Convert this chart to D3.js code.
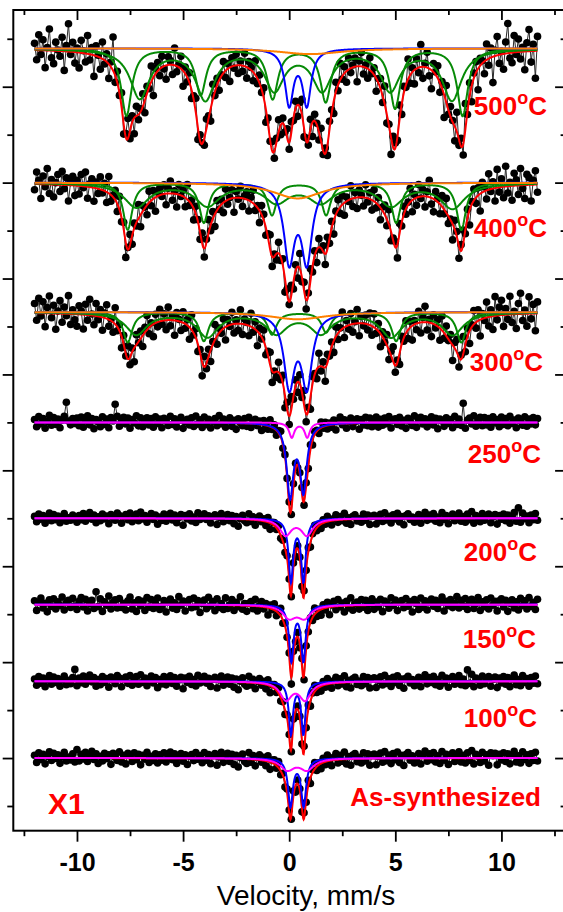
<!DOCTYPE html>
<html>
<head>
<meta charset="utf-8">
<script src="https://cdn.jsdelivr.net/npm/d3@7"></script>
<style>
  body { margin: 0; background: #fff; }
  svg { display: block; font-family: "Liberation Sans", Arial, sans-serif; }
</style>
</head>
<body>
<svg id="chart" width="563" height="912"></svg>
<script>
// spectra, top to bottom
const labels = ['500', '400', '300', '250', '200', '150', '100', 'As-synthesized'];
const baselines = [158, 130, 103, 80, 60, 42, 26, 10];

// velocity channels, mm/s (-12.0 .. 11.7)
const velocity = d3.range(-120, 118).map(d => d / 10);

// magnetic sextets (green), only for 500, 400, 300 C
const sextetAPos = [
  [-7.67, -4.17, -0.78, 1.72, 4.99, 8.17],
  [-7.61, -4.02, -0.81, 1.74, 5.04, 8.11],
  [-7.61, -4.02, -0.81, 1.74, 5.04, 8.11]
];
const sextetADepth = [
  [14.0, 9.6, 10.4, 11.0, 12.4, 14.0],
  [9.8, 8.3, 6.7, 6.7, 8.3, 9.8],
  [6.3, 6.0, 4.6, 4.2, 6.0, 6.3]
];
const sextetAWidth = [0.3, 0.26, 0.26];
const sextetBPos = [
  [-7.04, -3.95, -0.7, 1.55, 4.76, 7.67],
  [-7.2, -3.85, -0.6, 1.5, 4.8, 7.7],
  [-7.2, -3.85, -0.6, 1.5, 4.8, 7.7]
];
const sextetBDepth = [
  [10.2, 10.4, 8.3, 8.3, 8.5, 10.6],
  [5.0, 4.6, 3.8, 3.8, 4.6, 5.2],
  [4.6, 5.0, 4.2, 4.2, 5.0, 4.6]
];
const sextetBWidth = [0.55, 0.7, 0.6];

// paramagnetic doublet (blue)
const doubletPos = [[0.0, 0.83], [0.0, 0.83], [0.0, 0.83], [0.04, 0.67], [0.08, 0.67], [0.1, 0.67], [0.08, 0.67], [0.06, 0.68]];
const doubletDepth = [[11.5, 11.5], [15.9, 15.9], [15.0, 15.0], [15.0, 13.9], [12.9, 12.9], [11.5, 11.5], [10.8, 10.8], [9.8, 9.8]];
const doubletWidth = [0.24, 0.3, 0.3, 0.19, 0.13, 0.13, 0.12, 0.14];

// broad component (orange for 500-300 C, magenta below)
const broadPos = [[1.0], [0.4], [0.4], [0.12, 0.85], [-0.17, 0.84], [0.0, 0.72], [-0.15, 0.75], [-0.09, 0.84]];
const broadDepth = [[1.2], [3.3], [1.5], [3.1, 3.1], [3.4, 3.4], [2.57, 2.57], [3.7, 3.7], [2.35, 2.35]];
const broadWidth = [1.8, 1.4, 1.6, 0.15, 0.33, 0.38, 0.33, 0.4];

// measured points: residuals from the fit, in tenths of a y unit
const noise500 = [
  14,-20,32,-9,22,-36,6,45,-15,-27,18,2,-11,29,-40,12,58,-6,20,-23,
  9,-32,26,5,-18,38,-12,15,-44,21,3,-24,35,-8,17,-30,10,70,-14,24,
  -5,30,-21,8,42,-17,14,-33,20,-11,6,27,-26,15,-3,33,-38,11,18,-14,
  23,-6,-29,17,9,-20,36,-12,5,26,-32,14,-9,21,-18,8,30,-24,12,2,
  -15,20,6,-26,32,-8,15,-21,3,24,-14,11,-29,18,-5,23,-17,9,-12,27,
  -23,14,5,-18,29,-11,17,-6,21,-27,12,-3,20,-15,8,26,-20,11,-9,18,
  -14,23,-5,15,-24,9,32,-18,6,-11,21,-30,14,3,-17,27,-8,12,-21,17,
  8,-26,20,-12,35,-6,14,-23,24,-9,5,18,-32,11,29,-15,6,-20,26,-3,
  15,-27,9,21,-14,38,-18,3,-35,23,11,-8,30,-21,14,-5,42,-17,9,-29,
  20,-11,47,-24,8,32,-15,-39,18,6,26,-20,14,-47,35,-9,21,3,-30,41,
  -12,17,-23,54,-6,29,-33,11,23,-44,15,5,-26,33,-14,20,-54,12,39,-18,
  6,-32,24,62,-11,-21,35,-5,27,-15,9,-38,18,45,-23,14,-57,30
];
const noise400 = [
  -12,25,8,-30,17,-5,33,-19,10,-26,4,21,-14,28,-8,15,-33,6,19,-21,
  11,-17,24,-3,30,-24,7,18,-28,13,-10,26,-6,16,-22,35,-13,3,20,-16,
  27,-9,14,-31,5,22,-18,10,-7,29,-25,12,2,-20,24,-11,17,-29,8,15,
  -4,19,-23,11,26,-14,6,-27,21,-2,13,-19,31,-8,9,-24,16,4,-15,22,
  -18,7,28,-12,15,-26,20,-5,11,-21,25,-9,3,18,-30,13,-3,24,-17,6,
  16,-22,9,27,-11,4,-25,19,12,-16,8,30,-20,5,-13,23,-7,14,-28,10,
  -6,21,-15,13,-24,32,-9,17,-19,6,26,-12,10,-27,18,-4,12,-22,25,-10,
  14,-29,7,22,-13,19,-26,9,-3,28,-17,11,-23,15,4,-18,27,-8,13,-21,
  24,-10,16,-25,8,20,-14,31,-19,5,12,-28,21,-7,17,-11,6,29,-24,9,
  -16,26,-4,14,-22,10,35,-13,-27,18,7,-20,23,-9,30,-15,2,-33,19,11,
  -25,13,28,-8,19,-31,6,24,-12,16,-36,21,9,-18,33,-5,14,-27,38,-10,
  17,-23,42,-14,8,-30,26,12,-19,35,-7,-28,22,15,-34,9,29,-16
];
const noise300 = [
  20,-15,31,-6,24,-28,12,36,-9,17,-33,5,27,-18,14,-4,38,-22,9,-12,
  -25,18,7,-30,22,-11,33,3,-19,26,-7,15,-27,10,29,-14,4,-21,34,-8,
  13,-24,19,-5,28,-16,8,-29,21,-2,16,-23,11,30,-13,6,-26,18,-10,25,
  -7,14,-20,27,-12,9,-31,17,4,-18,23,-9,12,-25,31,-4,19,-15,7,-28,
  22,-11,15,-24,6,32,-17,10,-6,20,-27,13,-3,25,-19,8,-14,29,-22,11,
  5,-21,28,-9,16,-30,12,-4,24,-15,9,26,-23,3,-12,21,-8,17,-26,14,
  -18,27,-6,13,-22,19,-11,30,-16,7,-25,15,2,-20,28,-10,11,-29,18,-3,
  10,-24,20,-13,6,35,-21,12,-8,23,-17,4,29,-26,14,-5,18,-12,25,-19,
  28,-9,16,-27,11,-3,22,-20,9,31,-14,5,-23,17,-7,26,-18,13,-30,8,
  -13,24,-22,10,33,-16,7,-28,19,-6,14,-25,30,-11,21,-3,16,-32,12,27,
  -20,9,36,-15,18,-26,5,29,-12,23,-34,11,-5,32,-19,14,-28,40,-9,17,
  31,-24,13,-10,38,-17,6,-30,22,43,-14,8,-26,35,-11,19,-36,24
];
const noise250 = [
  6,-9,12,-3,8,-12,2,15,-6,10,-4,7,-11,5,13,42,3,-5,8,-2,
  9,-7,11,-10,4,14,-5,8,-13,6,1,-9,12,-4,7,-11,10,3,38,13,
  -8,5,11,-3,9,-12,6,-1,14,-7,10,-9,4,10,-5,8,-10,12,-2,7,
  -11,9,3,-6,13,-4,8,-9,5,11,-12,2,7,-5,10,-8,14,-3,6,-10,
  12,-4,7,-11,3,9,-6,15,-2,8,-9,4,11,-7,6,-13,9,1,-5,10,
  -6,13,-8,4,10,-3,7,-12,9,2,-7,14,-4,8,-10,5,12,-9,3,-1,
  8,-10,5,11,-6,3,13,-8,7,-4,10,-11,6,2,-9,12,-3,8,-7,4,
  -5,9,-12,6,14,-2,8,-10,4,11,-7,3,9,-13,7,-4,12,-6,10,-8,
  3,12,-9,7,-5,10,-2,13,-11,6,8,-4,11,-7,5,-12,9,2,-6,14,
  -10,6,11,-3,8,-9,4,12,-5,9,-13,7,3,-8,10,-2,6,-11,13,-4,
  7,-6,40,-12,5,9,-3,14,-8,4,11,-7,10,-5,8,-10,12,-1,6,-9,
  11,-4,8,-7,13,-2,5,-11,9,3,-6,12,-8,7,-3,10,-5,8
];
const noise200 = [
  4,-7,9,-2,6,-10,3,11,-5,8,-3,5,-9,2,10,-6,1,-4,7,-1,
  -8,6,-3,10,-6,4,12,-2,7,-9,3,-5,9,-1,5,-11,8,2,-4,11,
  6,-10,4,8,-3,11,-7,2,9,-5,13,-1,6,-8,4,10,-2,7,-12,3,
  -4,9,-6,5,11,-3,7,-9,2,8,-14,6,-1,10,-5,3,-8,12,-2,5,
  10,-2,6,-9,4,8,-12,3,11,-6,2,9,-4,7,-10,5,-15,1,8,-3,
  -7,12,-4,6,-11,3,9,-2,5,-8,10,-13,4,7,-3,11,-6,2,-9,6,
  3,-5,8,-12,6,1,-7,10,-3,9,-10,4,12,-6,2,-9,7,-4,11,-1,
  -9,4,11,-5,7,-2,13,-8,3,-11,6,9,-4,1,-7,10,-3,8,-12,5,
  7,-11,2,9,-6,12,-3,5,-9,8,-1,11,-7,4,-13,6,10,-2,3,-8,
  -3,8,-10,5,13,-4,7,-1,10,-6,3,-9,12,-2,6,-11,4,9,-5,2,
  11,-6,4,-8,9,-3,14,-10,6,2,-7,10,-4,5,9,-9,3,8,-12,6,
  -2,9,-5,7,-10,4,12,-6,22,-8,11,-1,5,-9,7,-3,10,-4
];
const noise150 = [
  8,-12,5,14,-7,3,-15,10,-4,12,-9,6,-2,16,-11,4,9,-6,13,-3,
  -10,7,15,-5,11,-13,2,9,-8,27,-4,12,-14,6,-1,18,-9,5,10,-7,
  13,-6,3,-11,8,16,-9,4,-14,10,-2,7,-12,15,-5,11,-8,2,14,-10,
  -3,9,-15,6,12,-7,4,-10,17,-1,8,-13,5,11,-6,14,-4,9,-16,3,
  10,-8,16,-2,7,-12,13,-5,3,-9,15,-7,1,12,-11,6,-3,18,-8,4,
  -12,5,9,-6,14,-10,2,11,-4,8,-15,7,-1,13,-9,4,16,-7,6,-2,
  7,-14,12,-3,9,-8,15,-11,5,-1,10,-6,13,-9,3,-12,8,-4,11,-16,
  4,11,-7,14,-2,6,-13,9,-5,16,-10,3,7,-8,12,-4,10,-11,2,13,
  -9,6,-4,12,-14,8,3,-7,15,-1,10,-12,5,9,-6,13,-3,7,-15,11,
  2,-10,14,-5,8,-11,6,12,-3,9,-8,4,16,-13,7,-2,11,-6,3,17,
  -7,9,-3,13,-10,5,11,-8,2,15,-12,6,-4,10,-9,14,-1,7,-13,8,
  12,-5,9,-14,3,10,-7,6,-11,13,-2,8,-9,15,-4,5,-10,11
];
const noise100 = [
  5,-8,10,-4,7,-11,3,12,-6,9,-2,6,-10,4,11,-7,2,-5,8,25,
  -9,7,-3,11,-6,5,13,-1,8,-10,4,-7,10,-2,6,-12,9,3,-5,12,
  7,-11,5,9,-4,12,-8,3,10,-6,14,-2,7,-9,5,11,-3,8,-13,4,
  -5,10,-7,6,12,-4,8,-10,3,9,-15,7,-2,11,-6,4,-9,13,-3,6,
  11,-3,7,-10,5,9,-13,4,12,-7,3,10,-5,8,-11,6,-16,2,9,-4,
  -8,13,-5,7,-12,4,10,-3,6,-9,11,-14,5,8,-4,12,-7,3,-10,7,
  4,-6,9,-13,7,2,-8,11,-4,10,-11,5,13,-7,3,-10,8,-5,12,-2,
  -10,5,12,-6,8,-3,14,-9,4,-12,7,10,-5,2,-8,11,-4,9,-13,6,
  8,-12,3,10,-7,13,-4,6,-10,9,-2,12,-8,5,-14,7,11,-3,4,-9,
  -4,9,-11,6,14,-5,8,-2,11,-7,4,-10,13,-3,7,-12,5,10,-6,3,
  12,-7,5,-9,24,-4,15,-11,7,3,-8,11,-5,6,10,-10,4,9,-13,7,
  -3,10,-6,8,-11,5,13,-7,4,-9,12,-2,6,-10,8,-4,11,-5
];
const noiseAs = [
  6,-9,11,-3,8,-12,4,13,-5,10,-1,7,-11,3,12,-6,2,-4,9,-8,
  18,-6,8,-2,12,-7,6,14,-3,9,-11,4,-6,10,-1,7,-13,10,2,-5,
  13,-8,6,-12,10,5,-7,11,-3,8,-14,6,-2,12,-9,4,-5,9,-10,7,
  -4,11,-8,5,13,-3,9,-11,2,10,-6,7,-13,4,8,-5,12,-2,6,-9,
  12,-4,8,-11,6,10,-14,3,13,-8,5,11,-6,9,-12,7,-17,3,10,-5,
  -9,14,-6,8,-13,5,11,-4,7,-10,12,-15,6,9,-5,13,-8,4,-11,8,
  5,-7,10,-14,8,3,-9,12,-5,11,-12,6,14,-8,4,-11,9,-6,13,-3,
  -11,6,13,-7,9,-4,15,-10,5,-13,8,11,-6,3,-9,12,-5,10,-14,7,
  9,-13,4,11,-8,14,-5,7,-11,10,-3,13,-9,6,-15,8,12,-4,5,-10,
  -5,10,-12,7,15,-6,9,-3,12,-8,5,-11,14,-4,8,-13,6,11,-7,4,
  13,-8,6,-10,11,-5,16,-12,8,4,-9,12,-6,7,-15,11,5,10,-14,8,
  -4,11,-7,9,-12,6,14,-8,5,-10,13,-3,7,-11,9,-5,12,-6
];
const noises = [noise500, noise400, noise300, noise250, noise200, noise150, noise100, noiseAs];

const xMajor = [-10, -5, 0, 5, 10];
const xMinor = [-12.5, -7.5, -2.5, 2.5, 7.5, 12.5];
const yMajor = [10, 30, 50, 70, 90, 110, 130, 150];
const yMinor = [0, 20, 40, 60, 80, 100, 120, 140, 160];

// ---- layout ----
const svg = d3.select('#chart');
const x = d3.scaleLinear().domain([-13, 13]).range([13.3, 565.1]);
const y = d3.scaleLinear().domain([-5.15, 166]).range([830.7, 10]);
const fine = d3.range(-1200, 1171, 2).map(d => d / 100);

function lorentz(v, pos, depth, w) {
  let s = 0;
  pos.forEach((p, i) => {
    const t = (v - p) / w;
    s += depth[i] / (1 + t * t);
  });
  return s;
}

const spectra = labels.map((label, k) => {
  const comps = [];
  if (k < 3) {
    comps.push({ key: 'sextetA', color: '#068a06', f: v => lorentz(v, sextetAPos[k], sextetADepth[k], sextetAWidth[k]) });
    comps.push({ key: 'sextetB', color: '#068a06', f: v => lorentz(v, sextetBPos[k], sextetBDepth[k], sextetBWidth[k]) });
  }
  comps.push({ key: 'doublet', color: '#0000ff', f: v => lorentz(v, doubletPos[k], doubletDepth[k], doubletWidth[k]) });
  comps.push({ key: 'broad', color: k < 3 ? '#ff8000' : '#ff00ff', f: v => lorentz(v, broadPos[k], broadDepth[k], broadWidth[k]) });
  const total = v => d3.sum(comps, c => c.f(v));
  const points = velocity.map((v, i) => ({ v, t: baselines[k] - total(v) + (noises[k][i] || 0) / 10 }));
  return { label, base: baselines[k], comps, total, points };
});

const line = d3.line().x(d => x(d[0])).y(d => y(d[1]));
const dataLine = d3.line().x(d => x(d.v)).y(d => y(d.t));

const plot = svg.append('g');
spectra.forEach(s => {
  const g = plot.append('g');
  g.append('path')
    .attr('d', dataLine(s.points))
    .attr('fill', 'none')
    .attr('stroke', '#2a2a2a')
    .attr('stroke-width', 1);
  g.selectAll('circle')
    .data(s.points)
    .join('circle')
    .attr('cx', d => x(d.v))
    .attr('cy', d => y(d.t))
    .attr('r', 3.8)
    .attr('fill', '#000');
  g.append('path')
    .attr('d', line(fine.map(v => [v, s.base - s.total(v)])))
    .attr('fill', 'none')
    .attr('stroke', '#ff0000')
    .attr('stroke-width', 2);
  s.comps.forEach(c => {
    g.append('path')
      .attr('d', line(fine.map(v => [v, s.base - c.f(v)])))
      .attr('fill', 'none')
      .attr('stroke', c.color)
      .attr('stroke-width', 2);
  });
});

// frame and ticks
svg.append('rect')
  .attr('x', x(-13)).attr('y', y(166))
  .attr('width', x(13) - x(-13)).attr('height', y(-5.15) - y(166))
  .attr('fill', 'none').attr('stroke', '#000').attr('stroke-width', 2);

function addAxis(axis, transform) {
  const g = svg.append('g').attr('transform', transform).call(axis);
  g.select('.domain').remove();
  g.selectAll('line').attr('stroke', '#000').attr('stroke-width', 1.8);
  return g;
}
const bottom = addAxis(d3.axisBottom(x).tickValues(xMajor).tickSize(11).tickFormat(d => String(d)), `translate(0,${y(-5.15)})`);
bottom.selectAll('text')
  .attr('y', 40).attr('dy', null)
  .attr('font-size', 25).attr('font-weight', 'bold')
  .attr('font-family', '"Liberation Sans", Arial, sans-serif')
  .attr('fill', '#000');
addAxis(d3.axisBottom(x).tickValues(xMinor).tickSize(5.5).tickFormat(''), `translate(0,${y(-5.15)})`);
addAxis(d3.axisTop(x).tickValues(xMajor).tickSize(-10).tickFormat(''), `translate(0,${y(166)})`);
addAxis(d3.axisTop(x).tickValues(xMinor).tickSize(-5).tickFormat(''), `translate(0,${y(166)})`);
addAxis(d3.axisLeft(y).tickValues(yMajor).tickSize(10.6).tickFormat(''), `translate(${x(-13)},0)`);
addAxis(d3.axisLeft(y).tickValues(yMinor).tickSize(6).tickFormat(''), `translate(${x(-13)},0)`);
addAxis(d3.axisRight(y).tickValues(yMajor).tickSize(-10).tickFormat(''), `translate(${x(13)},0)`);
addAxis(d3.axisRight(y).tickValues(yMinor).tickSize(-4.5).tickFormat(''), `translate(${x(13)},0)`);

svg.append('text')
  .attr('x', 306).attr('y', 905)
  .attr('text-anchor', 'middle')
  .attr('font-size', 28)
  .attr('fill', '#000')
  .text('Velocity, mm/s');

// temperature labels
const labelRight = [547, 547, 543, 541, 537, 536, 537, 541];
const labelBase = [115, 237, 371, 463, 561, 648, 727, 806];
labels.forEach((label, k) => {
  const t = svg.append('text')
    .attr('x', labelRight[k]).attr('y', labelBase[k])
    .attr('text-anchor', 'end')
    .attr('font-size', 26).attr('font-weight', 'bold')
    .attr('fill', '#ff0000');
  if (k === labels.length - 1) {
    t.text(label);
    return;
  }
  t.append('tspan').text(label);
  t.append('tspan').attr('font-size', 18).attr('dy', -11).text('o');
  t.append('tspan').attr('dy', 11).text('C');
});

svg.append('text')
  .attr('x', 48).attr('y', 814)
  .attr('font-size', 30).attr('font-weight', 'bold')
  .attr('fill', '#ff0000')
  .text('X1');
</script>
</body>
</html>
